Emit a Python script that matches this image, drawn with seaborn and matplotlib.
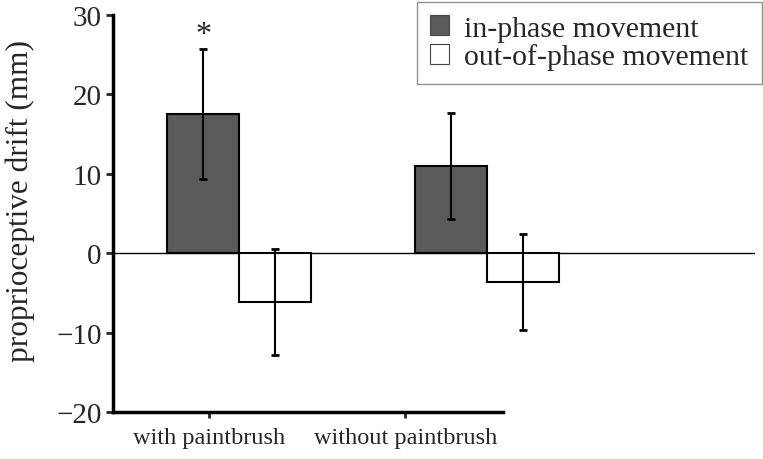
import matplotlib
matplotlib.use("Agg")
import matplotlib.pyplot as plt
import seaborn as sns
import pandas as pd
from matplotlib.patches import Patch

conditions = ["with paintbrush", "without paintbrush"]
movements = ["in-phase movement", "out-of-phase movement"]
drift_in = [17.5, 11.0]
drift_out = [-6.1, -3.6]
err_in = [8.2, 6.7]
err_out = [6.65, 6.0]
colors = {"in-phase movement": "#5a5a5a", "out-of-phase movement": "white"}

df = pd.DataFrame({
    "condition": conditions * 2,
    "movement": [movements[0]] * 2 + [movements[1]] * 2,
    "drift": drift_in + drift_out,
})
errs = err_in + err_out

sns.set_style("white")
plt.rcParams["font.family"] = ["Liberation Serif", "DejaVu Serif"]
plt.rcParams["font.size"] = 18

fig = plt.figure(figsize=(7.63, 4.6), dpi=100)
ax = fig.add_axes([0.148, 0.102, 0.842, 0.863])

sns.barplot(data=df, x="condition", y="drift", hue="movement", order=conditions,
            hue_order=movements, palette=colors, width=0.58, errorbar=None,
            edgecolor="black", linewidth=1.5, ax=ax, legend=False)

# error bars at the bar centres seaborn picked
bars = ax.patches[:4]
for bar, e in zip(bars, errs):
    cx = bar.get_x() + bar.get_width() / 2
    h = bar.get_height()
    ax.errorbar(cx, h, yerr=e, fmt="none", ecolor="black", elinewidth=1.5,
                capsize=3, capthick=2)

ax.axhline(0, color="black", lw=1, zorder=0.5)
star_bar = bars[0]
ax.text(star_bar.get_x() + star_bar.get_width() / 2, 27.6, "*", ha="center",
        va="center", fontsize=23)

ax.set_ylim(-20, 30)
ax.set_yticks(range(-20, 31, 10))
ax.set_yticklabels(["\u221220", "\u221210", "0", "10", "20", "30"], fontsize=21)
ax.set_xlim(-0.508, 2.08)
ax.set_xticks([-0.12, 0.67])
ax.set_xticklabels(conditions, fontsize=17.5)
ax.set_xlabel("")
ax.set_ylabel("proprioceptive drift (mm)", fontsize=22.5)
ax.yaxis.set_label_coords(-0.122, 0.535)

for s in ["top", "right"]:
    ax.spines[s].set_visible(False)
for s in ["left", "bottom"]:
    ax.spines[s].set_linewidth(2.5)
    ax.spines[s].set_color("black")
ax.spines["bottom"].set_bounds(-0.508, 1.065)
ax.tick_params(axis="y", direction="out", length=5, width=2, left=True, pad=3)
ax.tick_params(axis="x", direction="out", length=4, width=2, bottom=True, pad=7)

handles = [Patch(facecolor=colors[m], edgecolor="#444444", linewidth=0.8) for m in movements]
leg = fig.legend(handles, movements, loc="upper right", bbox_to_anchor=(0.999, 0.994),
                 frameon=True, fancybox=False, edgecolor="#777777", fontsize=21.5,
                 handlelength=0.65, handleheight=0.65, handletextpad=0.5,
                 borderpad=0.45, labelspacing=0.05, borderaxespad=0)
leg.get_frame().set_linewidth(1)

fig.savefig("out.png", dpi=100)
